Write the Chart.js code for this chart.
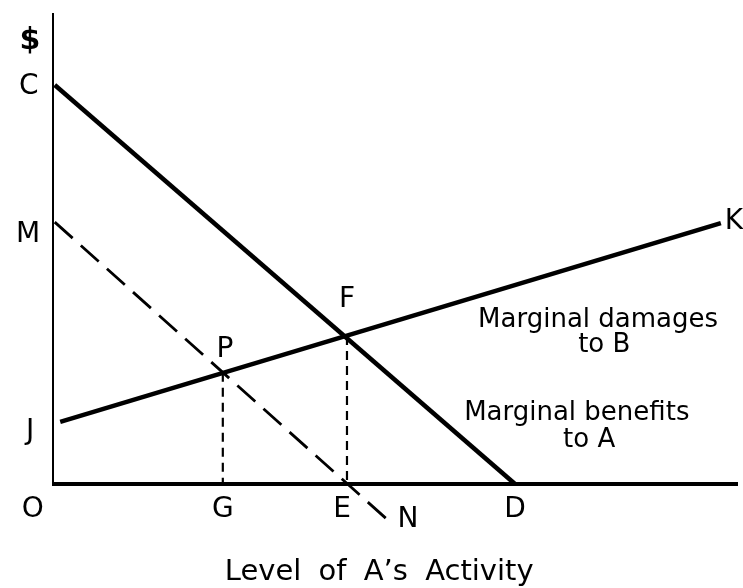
<!DOCTYPE html>
<html>
<head>
<meta charset="utf-8">
<script src="https://cdn.jsdelivr.net/npm/chart.js@4"></script>
<style>
  html, body { margin: 0; padding: 0; background: #fff; }
  #wrap { width: 743px; height: 588px; position: relative; }
</style>
</head>
<body>
<div id="wrap"><canvas id="chart"></canvas></div>
<script>
// Axes (the frame O-$ and O-along the activity axis)
const axisX = [0, 0, 100];
const axisY = [100, 0, 0];

// Marginal benefits to A: C -> D
const benefitsX = [0.4, 67.5];
const benefitsY = [84.7, 0];

// Marginal damages to B: J -> K
const damagesX = [1.2, 97.5];
const damagesY = [13.2, 55.4];

// Dashed curve M -> N
const mnX = [0.4, 49.3];
const mnY = [55.6, -8.1];

// Drop lines P -> G and F -> E
const pgX = [24.9, 24.9];
const pgY = [23.6, 0];
const feX = [43.0, 43.0];
const feY = [31.4, 0];

// Single letters, anchored in data units
const letterText = ['C', 'M', 'J', 'O', 'G', 'E', 'N', 'D', 'K', 'P', 'F'];
const letterX = [-3.4, -3.5, -3.2, -2.8, 24.9, 42.3, 51.9, 67.5, 99.4, 25.2, 43.0];
const letterY = [84.3, 52.9, 11.0, -5.5, -5.5, -5.5, -7.6, -5.5, 55.6, 28.5, 39.1];

// Captions
const captionText = ['Marginal damages', 'to B', 'Marginal benefits', 'to A'];
const captionX = [79.6, 80.5, 76.5, 78.3];
const captionY = [34.8, 29.5, 15.1, 9.3];

const unitLabel = { text: '$', x: -3.2, y: 94.1 };
const axisTitle = { text: 'Level of A\u2019s Activity', x: 47.7, y: -18.7 };

function pts(xs, ys) {
  return xs.map((x, i) => ({ x: x, y: ys[i] }));
}

function line(xs, ys, width, dash) {
  return {
    data: pts(xs, ys),
    showLine: true,
    borderColor: '#000',
    borderWidth: width,
    borderDash: dash || [],
    pointRadius: 0,
    borderCapStyle: 'butt',
    borderJoinStyle: 'miter',
    tension: 0
  };
}

const labelsPlugin = {
  id: 'letters',
  afterDatasetsDraw(chart) {
    const c = chart.ctx;
    const xs = chart.scales.x;
    const ys = chart.scales.y;
    const put = (t, x, y) => c.fillText(t, xs.getPixelForValue(x), ys.getPixelForValue(y));
    c.save();
    c.fillStyle = '#000';
    c.textAlign = 'center';
    c.textBaseline = 'middle';

    c.font = '28px "DejaVu Sans", sans-serif';
    letterText.forEach((t, i) => put(t, letterX[i], letterY[i]));

    c.font = '26px "DejaVu Sans", sans-serif';
    captionText.forEach((t, i) => put(t, captionX[i], captionY[i]));

    c.font = 'bold 30px "DejaVu Sans", sans-serif';
    put(unitLabel.text, unitLabel.x, unitLabel.y);

    c.font = '29px "DejaVu Sans", sans-serif';
    c.wordSpacing = '8px';
    put(axisTitle.text, axisTitle.x, axisTitle.y);
    c.restore();
  }
};

new Chart(document.getElementById('chart'), {
  type: 'scatter',
  data: {
    datasets: [
      line(axisX, axisY, 4),
      line(benefitsX, benefitsY, 4.5),
      line(damagesX, damagesY, 4.5),
      line(mnX, mnY, 2.8, [24, 11]),
      line(pgX, pgY, 2.2, [9, 6]),
      line(feX, feY, 2.2, [9, 6])
    ]
  },
  options: {
    responsive: true,
    maintainAspectRatio: false,
    animation: false,
    layout: { padding: { left: 52, right: 5, top: 13, bottom: 47.5 } },
    plugins: {
      legend: { display: false },
      tooltip: { enabled: false }
    },
    scales: {
      x: { type: 'linear', min: 0, max: 100, display: false },
      y: { type: 'linear', min: -12, max: 100, display: false }
    }
  },
  plugins: [labelsPlugin]
});
</script>
</body>
</html>
